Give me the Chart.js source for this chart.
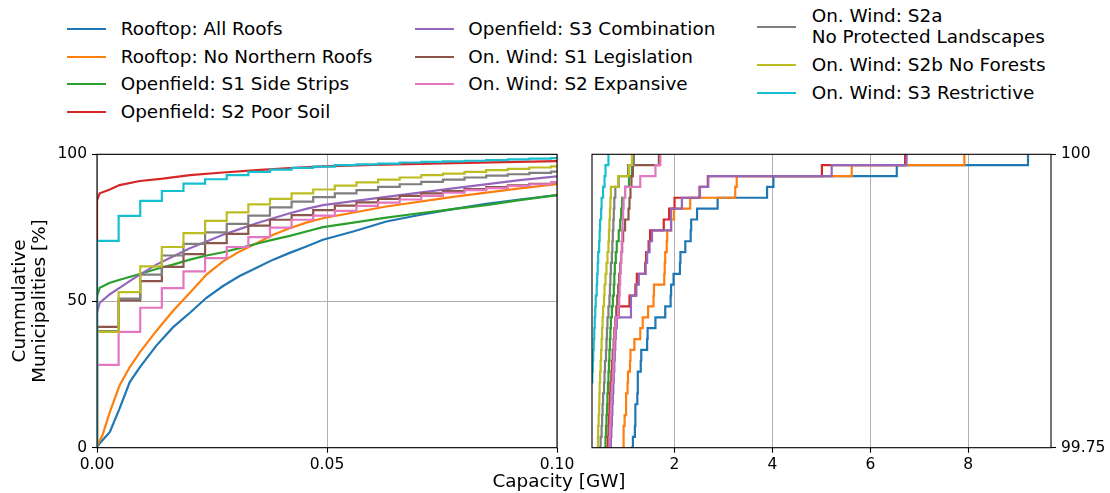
<!DOCTYPE html>
<html>
<head>
<meta charset="utf-8">
<script src="https://cdn.jsdelivr.net/npm/chart.js@4.4.1/dist/chart.umd.min.js"></script>
<style>
  html, body { margin: 0; padding: 0; background: #fff; }
  body { width: 1110px; height: 493px; position: relative; overflow: hidden; font-family: "DejaVu Sans", sans-serif; }
  canvas { position: absolute; top: 140px; }
  #c1 { left: 0; }
  #c2 { left: 575px; }
  .lh { position: absolute; height: 2px; }
  .lt { position: absolute; font-size: 18.4px; line-height: 22px; white-space: pre; color: #000; }
  #xtitle { position: absolute; left: 459px; width: 200px; top: 470px; text-align: center; font-size: 18.4px; line-height: 22px; color: #000; }
</style>
</head>
<body>
<div id="legend"></div>
<canvas id="c1" width="600" height="353"></canvas>
<canvas id="c2" width="535" height="353"></canvas>
<div id="xtitle">Capacity [GW]</div>
<script>
// ---------------- DATA ----------------
const N_MUNI = 10800; // number of municipalities (one step in the right panel)

const seriesNames = [
  "Rooftop: All Roofs",
  "Rooftop: No Northern Roofs",
  "Openfield: S1 Side Strips",
  "Openfield: S2 Poor Soil",
  "Openfield: S3 Combination",
  "On. Wind: S1 Legislation",
  "On. Wind: S2 Expansive",
  "On. Wind: S2a\nNo Protected Landscapes",
  "On. Wind: S2b No Forests",
  "On. Wind: S3 Restrictive"
];
const seriesColors = ["#1f77b4", "#ff7f0e", "#2ca02c", "#d62728", "#9467bd",
                      "#8c564b", "#e377c2", "#7f7f7f", "#bcbd22", "#17becf"];

// Left panel (0 - 0.1 GW), smooth CDFs: capacity [GW] / cumulative share [%]
const roofAllX   = [0, 0.0006, 0.0028, 0.0049, 0.0071, 0.0093, 0.0129, 0.0165, 0.0202, 0.0238, 0.0274, 0.0310, 0.0347, 0.0383, 0.0419, 0.0455, 0.0491, 0.0557, 0.0629, 0.0701, 0.0774, 0.0846, 0.0919, 0.1];
const roofAllY   = [0.3, 1.5, 5.4, 13.3, 22.3, 27.4, 34.8, 41.0, 46.0, 51.1, 55.1, 58.5, 61.3, 64.1, 66.4, 68.6, 70.9, 73.7, 77.1, 79.3, 81.3, 83.1, 84.6, 86.1];
const roofNorthX = [0, 0.0003, 0.0012, 0.0028, 0.0049, 0.0071, 0.0093, 0.0129, 0.0165, 0.0202, 0.0238, 0.0274, 0.0310, 0.0347, 0.0383, 0.0419, 0.0455, 0.0491, 0.0629, 0.0774, 0.0919, 0.1];
const roofNorthY = [0.5, 1.5, 4.3, 12.2, 21.2, 27.4, 32.5, 39.8, 46.6, 52.8, 59.0, 63.5, 66.9, 69.7, 72.6, 74.8, 76.7, 78.2, 82.2, 85.5, 88.4, 89.8];
const openS1X    = [0, 0, 0.0006, 0.0028, 0.0057, 0.0093, 0.0129, 0.0165, 0.0202, 0.0238, 0.0274, 0.0310, 0.0347, 0.0383, 0.0419, 0.0455, 0.0491, 0.0557, 0.0629, 0.0701, 0.0774, 0.0846, 0.0919, 0.1];
const openS1Y    = [0, 51.7, 54.5, 56.2, 57.6, 59.2, 60.9, 62.4, 64.1, 65.5, 66.6, 68.0, 69.5, 70.9, 72.2, 73.7, 75.2, 76.7, 78.4, 79.9, 81.3, 82.7, 84.4, 86.1];
const openS2X    = [0, 0, 0.0003, 0.0006, 0.0028, 0.0049, 0.0093, 0.0143, 0.0202, 0.0274, 0.0347, 0.0419, 0.0491, 0.06, 0.08, 0.1];
const openS2Y    = [0, 84.4, 85.6, 86.7, 88.0, 89.5, 90.9, 91.7, 92.9, 93.8, 94.6, 95.3, 95.9, 96.4, 97.1, 97.7];
const openS3X    = [0, 0, 0.0006, 0.0028, 0.0049, 0.0071, 0.0093, 0.0129, 0.0165, 0.0202, 0.0238, 0.0274, 0.0310, 0.0347, 0.0383, 0.0419, 0.0455, 0.0491, 0.0629, 0.0774, 0.0919, 0.1];
const openS3Y    = [0, 46.0, 49.4, 52.3, 54.5, 56.8, 59.0, 62.4, 65.2, 68.0, 70.3, 72.6, 74.5, 76.5, 78.2, 79.9, 81.4, 82.7, 85.5, 88.4, 91.2, 92.5];

// Left panel, wind: step positions [GW] and cumulative share [%] at each step
const windStepGW = [0, 0.0047, 0.0094, 0.0141, 0.0188, 0.0235, 0.0282, 0.0329, 0.0376, 0.0423, 0.0470,
                    0.0517, 0.0564, 0.0611, 0.0658, 0.0705, 0.0752, 0.0799, 0.0846, 0.0893, 0.0940, 0.0987];
const windS1Y  = [41.2, 50.2, 56.8, 61.6, 66.0, 69.7, 72.9, 75.7, 77.7, 79.3, 81.0, 82.5, 83.6, 84.8, 85.8, 86.7, 87.5, 88.1, 88.8, 89.4, 89.9, 90.4];
const windS2Y  = [28.2, 39.5, 47.7, 54.4, 60.1, 64.6, 68.4, 71.8, 75.0, 77.7, 79.1, 80.7, 82.4, 83.5, 84.6, 85.8, 86.9, 87.8, 88.5, 89.2, 89.8, 90.5];
const windS2aY = [39.7, 50.8, 59.0, 65.5, 69.5, 73.4, 76.3, 79.1, 81.9, 83.9, 85.4, 86.7, 87.8, 88.9, 89.8, 90.6, 91.4, 92.1, 92.7, 93.2, 93.7, 94.1];
const windS2bY = [39.5, 53.0, 61.8, 68.4, 73.1, 77.3, 80.2, 82.9, 84.8, 86.7, 88.0, 89.3, 90.4, 91.4, 92.1, 92.9, 93.4, 94.0, 94.6, 95.0, 95.5, 95.9];
const windS3Y  = [70.5, 79.0, 84.1, 87.5, 90.0, 91.5, 92.9, 94.0, 94.8, 95.4, 95.8, 96.3, 96.6, 96.8, 97.2, 97.4, 97.6, 97.8, 98.0, 98.3, 98.5, 98.7];

// Right panel: capacities [GW] of the largest municipalities, largest first
const tailRoofAll   = [9.22, 6.54, 4.02, 3.89, 2.88, 2.46, 2.34, 2.33, 2.22, 2.12, 2.11, 1.98, 1.93, 1.92, 1.81, 1.61, 1.45, 1.44, 1.32, 1.31, 1.25, 1.25, 1.24, 1.20, 1.20, 1.19, 1.15, 1.13, 1.11];
const tailRoofNorth = [7.92, 5.62, 3.27, 3.24, 2.32, 1.99, 1.93, 1.85, 1.84, 1.81, 1.80, 1.79, 1.58, 1.57, 1.46, 1.35, 1.30, 1.18, 1.10, 1.09, 1.05, 1.04, 1.01, 1.01, 0.98, 0.96, 0.96, 0.95, 0.93];
const tailOpenS1    = [1.16, 1.13, 1.07, 0.99, 0.93, 0.91, 0.89, 0.86, 0.82, 0.80, 0.78, 0.77, 0.76, 0.74, 0.72, 0.70, 0.69, 0.68, 0.67, 0.66, 0.65, 0.64, 0.63, 0.62, 0.61, 0.60, 0.59, 0.58, 0.56];
const tailOpenS2    = [6.71, 5.01, 2.68, 2.51, 2.00, 1.89, 1.78, 1.50, 1.47, 1.42, 1.40, 1.23, 1.20, 1.08, 0.86, 0.81, 0.78, 0.76, 0.74, 0.72, 0.71, 0.69, 0.68, 0.67, 0.66, 0.65, 0.64, 0.62, 0.60];
const tailOpenS3    = [6.74, 5.21, 2.69, 2.52, 2.15, 1.93, 1.93, 1.54, 1.49, 1.44, 1.41, 1.27, 1.22, 1.11, 1.11, 0.82, 0.80, 0.79, 0.78, 0.77, 0.76, 0.75, 0.74, 0.73, 0.72, 0.71, 0.70, 0.69, 0.67];
const tailWindS1    = [1.68, 1.15, 1.12, 1.10, 1.08, 1.06, 0.99, 0.95, 0.93, 0.91, 0.89, 0.87, 0.85, 0.83, 0.81, 0.79, 0.77, 0.76, 0.74, 0.73, 0.72, 0.71, 0.70, 0.69, 0.68, 0.67, 0.66, 0.65, 0.63];
const tailWindS2    = [1.71, 1.61, 1.30, 0.99, 0.96, 0.95, 0.94, 0.93, 0.92, 0.91, 0.90, 0.89, 0.88, 0.87, 0.85, 0.80, 0.78, 0.77, 0.76, 0.75, 0.74, 0.72, 0.71, 0.70, 0.69, 0.68, 0.67, 0.66, 0.64];
const tailWindS2a   = [1.17, 1.05, 0.86, 0.79, 0.77, 0.76, 0.75, 0.74, 0.73, 0.72, 0.70, 0.69, 0.68, 0.67, 0.65, 0.63, 0.62, 0.61, 0.60, 0.58, 0.57, 0.56, 0.54, 0.53, 0.52, 0.51, 0.49, 0.48, 0.46];
const tailWindS2b   = [1.13, 1.07, 0.85, 0.70, 0.69, 0.68, 0.67, 0.66, 0.65, 0.63, 0.61, 0.59, 0.57, 0.56, 0.54, 0.53, 0.52, 0.51, 0.50, 0.49, 0.48, 0.47, 0.465, 0.46, 0.45, 0.44, 0.435, 0.43, 0.42];
const tailWindS3    = [0.65, 0.59, 0.57, 0.54, 0.51, 0.50, 0.48, 0.47, 0.46, 0.44, 0.43, 0.42, 0.41, 0.39, 0.38, 0.37, 0.36, 0.35, 0.34, 0.33, 0.32, 0.30, 0.28, 0.26, 0.24, 0.22, 0.20, 0.18, 0.16];

// Ticks
const leftXTicks = [0, 0.05, 0.1];       const leftXTickLabels = ["0.00", "0.05", "0.10"];
const leftYTicks = [0, 50, 100];         const leftYTickLabels = ["0", "50", "100"];
const rightXTicks = [2, 4, 6, 8];        const rightXTickLabels = ["2", "4", "6", "8"];
const rightYTicks = [99.75, 100];        const rightYTickLabels = ["99.75", "100"];

// ---------------- BUILD ----------------
const pairs = (xs, ys) => xs.map((x, i) => ({x: x, y: ys[i]}));
const windPts = (ys) => [{x: 0, y: 0}].concat(pairs(windStepGW, ys), [{x: 0.1, y: ys[ys.length - 1]}]);
const tailPts = (caps) => caps.map((c, k) => ({x: c, y: 100 * (N_MUNI - k) / N_MUNI})).reverse();

const leftData = [
  {pts: pairs(roofAllX, roofAllY), step: false},
  {pts: pairs(roofNorthX, roofNorthY), step: false},
  {pts: pairs(openS1X, openS1Y), step: false},
  {pts: pairs(openS2X, openS2Y), step: false},
  {pts: pairs(openS3X, openS3Y), step: false},
  {pts: windPts(windS1Y), step: true},
  {pts: windPts(windS2Y), step: true},
  {pts: windPts(windS2aY), step: true},
  {pts: windPts(windS2bY), step: true},
  {pts: windPts(windS3Y), step: true}
];
const rightData = [tailRoofAll, tailRoofNorth, tailOpenS1, tailOpenS2, tailOpenS3,
                   tailWindS1, tailWindS2, tailWindS2a, tailWindS2b, tailWindS3].map(tailPts);

const n = seriesNames.length;
function mkDataset(pts, i, stepped) {
  return {
    label: seriesNames[i], data: pts, borderColor: seriesColors[i], backgroundColor: seriesColors[i],
    borderWidth: 2.2, pointRadius: 0, pointHoverRadius: 0, fill: false, tension: 0,
    stepped: stepped, order: n - i, borderJoinStyle: 'miter', borderCapStyle: 'butt'
  };
}

const framePlugin = {
  id: 'frame',
  afterDatasetsDraw(chart) {
    const {ctx, chartArea: a} = chart;
    ctx.save();
    ctx.strokeStyle = '#000';
    ctx.lineWidth = 1.1;
    ctx.strokeRect(a.left, a.top, a.right - a.left, a.bottom - a.top);
    ctx.restore();
  }
};

const tickFont = {family: "DejaVu Sans", size: 15.5};
const gridBase = {color: '#b0b0b0', lineWidth: 1, tickColor: '#000', tickLength: 5, tickWidth: 1.1, drawTicks: true};
const setTicks = (vals) => (s) => { s.ticks = vals.map(v => ({value: v})); };

Chart.defaults.font.family = "DejaVu Sans";

new Chart(document.getElementById('c1'), {
  type: 'line',
  data: {datasets: leftData.map((d, i) => mkDataset(d.pts, i, d.step))},
  options: {
    responsive: false, animation: false, events: [],
    layout: {padding: {left: 0, right: 43, top: 12.3, bottom: 15.3}},
    plugins: {legend: {display: false}, tooltip: {enabled: false}},
    scales: {
      x: {
        type: 'linear', min: 0, max: 0.1,
        afterBuildTicks: setTicks(leftXTicks),
        afterFit: (s) => { s.height = 30; },
        ticks: {callback: (v, i) => leftXTickLabels[i], font: tickFont, color: '#000', padding: 3, maxRotation: 0, autoSkip: false},
        grid: gridBase, border: {display: false}
      },
      y: {
        type: 'linear', min: 0, max: 100,
        afterBuildTicks: setTicks(leftYTicks),
        afterFit: (s) => { s.width = 97; },
        ticks: {callback: (v, i) => leftYTickLabels[i], font: tickFont, color: '#000', padding: 5, autoSkip: false},
        grid: gridBase, border: {display: false},
        title: {display: true, text: ["Cummulative", "Municipalities [%]"], color: '#000',
                font: {family: "DejaVu Sans", size: 18.4, lineHeight: 1.12}, padding: {top: 9.7, bottom: 0}}
      }
    }
  },
  plugins: [framePlugin]
});

new Chart(document.getElementById('c2'), {
  type: 'line',
  data: {datasets: rightData.map((pts, i) => mkDataset(pts, i, true))},
  options: {
    responsive: false, animation: false, events: [],
    layout: {padding: {left: 17, right: 0, top: 12.3, bottom: 15.3}},
    plugins: {legend: {display: false}, tooltip: {enabled: false}},
    scales: {
      x: {
        type: 'linear', min: 0.314, max: 9.69,
        afterBuildTicks: setTicks(rightXTicks),
        afterFit: (s) => { s.height = 30; },
        ticks: {callback: (v, i) => rightXTickLabels[i], font: tickFont, color: '#000', padding: 3, maxRotation: 0, autoSkip: false},
        grid: gridBase, border: {display: false}
      },
      y: {
        type: 'linear', position: 'right', min: 99.75, max: 100,
        afterBuildTicks: setTicks(rightYTicks),
        afterFit: (s) => { s.width = 59; },
        ticks: {callback: (v, i) => rightYTickLabels[i], font: tickFont, color: '#000', padding: 5, autoSkip: false},
        grid: Object.assign({}, gridBase, {drawOnChartArea: false}), border: {display: false}
      }
    }
  },
  plugins: [framePlugin]
});

// ---------------- LEGEND ----------------
const legendPos = [
  {hx: 66.7, tx: 120.7, y: 29.3}, {hx: 66.7, tx: 120.7, y: 56.7}, {hx: 66.7, tx: 120.7, y: 84.1}, {hx: 66.7, tx: 120.7, y: 111.5},
  {hx: 415, tx: 468.3, y: 29.3}, {hx: 415, tx: 468.3, y: 56.7}, {hx: 415, tx: 468.3, y: 84.1},
  {hx: 757.3, tx: 811.7, y: 27.0}, {hx: 757.3, tx: 811.7, y: 65.0}, {hx: 757.3, tx: 811.7, y: 92.5}
];
const leg = document.getElementById('legend');
seriesNames.forEach((name, i) => {
  const p = legendPos[i];
  const h = document.createElement('div');
  h.className = 'lh';
  h.style.left = Math.round(p.hx) + 'px'; h.style.width = '39px';
  h.style.top = Math.round(p.y - 1) + 'px'; h.style.background = seriesColors[i];
  leg.appendChild(h);
  const t = document.createElement('div');
  t.className = 'lt';
  const lines = name.split('\n').length;
  const lh = lines > 1 ? 20.6 : 22;
  t.style.lineHeight = lh + 'px';
  t.style.left = p.tx + 'px';
  t.style.top = (p.y - lines * lh / 2) + 'px';
  t.textContent = name;
  leg.appendChild(t);
});
</script>
</body>
</html>
